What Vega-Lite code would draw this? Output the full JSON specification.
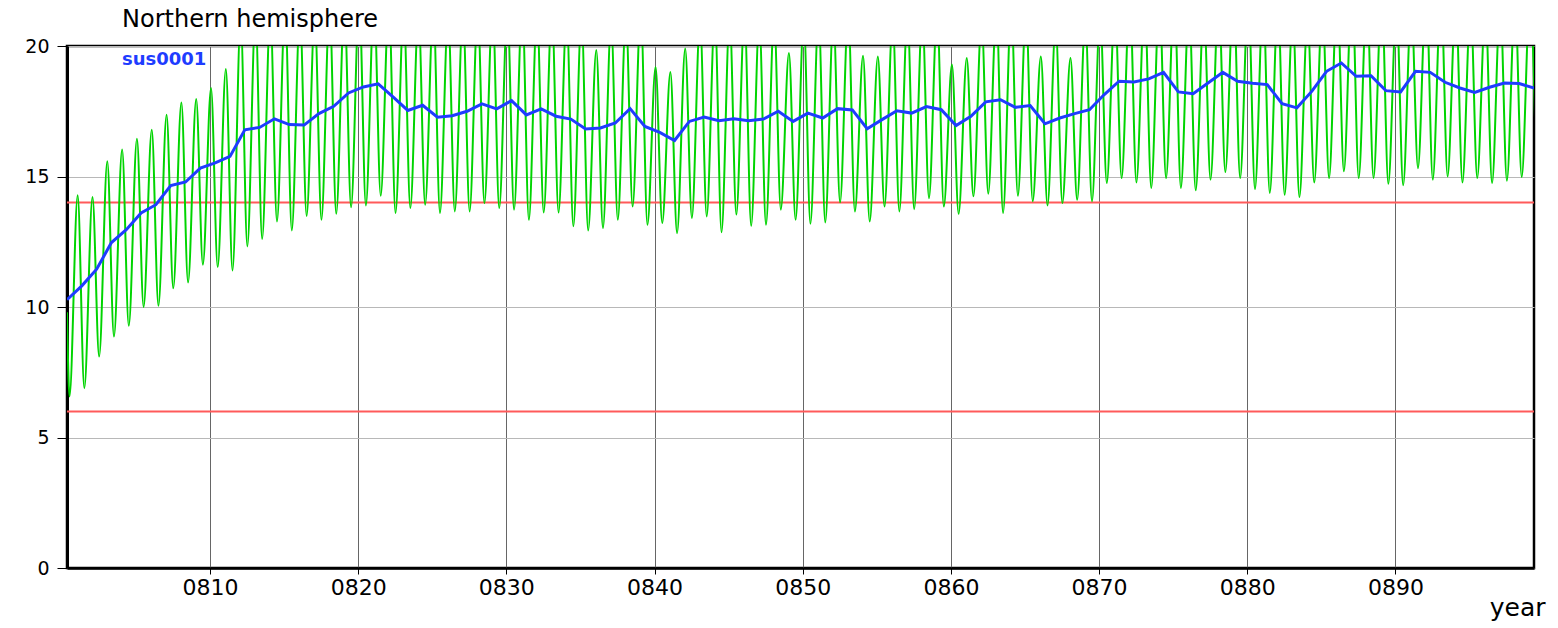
{
  "$schema": "https://vega.github.io/schema/vega-lite/v6.json",
  "autosize": {"type": "none"},
  "padding": {"left": 67, "top": 46, "right": 24, "bottom": 60},
  "width": 1467,
  "height": 522,
  "background": "white",
  "title": {"text": "Northern hemisphere", "anchor": "start", "frame": "group", "dx": 55, "offset": 17, "dy": 31, "baseline": "alphabetic", "fontSize": 24, "fontWeight": "normal", "font": "DejaVu Sans", "color": "#000"},
  "config": {
    "view": {"stroke": "#000", "strokeWidth": 2.5},
    "axis": {"labelFont": "DejaVu Sans", "titleFont": "DejaVu Sans", "labelColor": "#000", "titleColor": "#000", "domainColor": "#000", "tickColor": "#000"}
  },
  "datasets": {
    "green": [
      {"t":800.35,"v":9.8},
      {"t":800.52,"v":6.57},{"t":801.07,"v":14.28},
      {"t":801.52,"v":6.89},{"t":802.07,"v":14.21},
      {"t":802.52,"v":8.1},{"t":803.07,"v":15.58},
      {"t":803.52,"v":8.87},{"t":804.07,"v":16.03},
      {"t":804.52,"v":9.28},{"t":805.07,"v":16.45},
      {"t":805.52,"v":10.0},{"t":806.07,"v":16.79},
      {"t":806.52,"v":10.05},{"t":807.07,"v":17.37},
      {"t":807.52,"v":10.72},{"t":808.07,"v":17.84},
      {"t":808.52,"v":10.94},{"t":809.07,"v":17.97},
      {"t":809.52,"v":11.62},{"t":810.07,"v":18.39},
      {"t":810.52,"v":11.53},{"t":811.07,"v":19.12},
      {"t":811.52,"v":11.4},{"t":812.07,"v":21.0},
      {"t":812.52,"v":12.32},{"t":813.07,"v":21.2},
      {"t":813.52,"v":12.61},{"t":814.07,"v":21.3},
      {"t":814.52,"v":13.28},{"t":815.07,"v":21.5},
      {"t":815.52,"v":12.93},{"t":816.07,"v":21.3},
      {"t":816.52,"v":13.49},{"t":817.07,"v":21.2},
      {"t":817.52,"v":13.34},{"t":818.07,"v":21.5},
      {"t":818.52,"v":13.57},{"t":819.07,"v":21.6},
      {"t":819.52,"v":13.82},{"t":820.07,"v":21.8},
      {"t":820.52,"v":13.89},{"t":821.07,"v":21.8},
      {"t":821.52,"v":14.26},{"t":822.07,"v":21.7},
      {"t":822.52,"v":13.6},{"t":823.07,"v":21.4},
      {"t":823.52,"v":13.79},{"t":824.07,"v":21.3},
      {"t":824.52,"v":13.92},{"t":825.07,"v":21.5},
      {"t":825.52,"v":13.6},{"t":826.07,"v":21.2},
      {"t":826.52,"v":13.66},{"t":827.07,"v":21.3},
      {"t":827.52,"v":13.66},{"t":828.07,"v":21.4},
      {"t":828.52,"v":13.98},{"t":829.07,"v":21.5},
      {"t":829.52,"v":13.79},{"t":830.07,"v":21.4},
      {"t":830.52,"v":13.73},{"t":831.07,"v":21.6},
      {"t":831.52,"v":13.34},{"t":832.07,"v":21.3},
      {"t":832.52,"v":13.62},{"t":833.07,"v":21.4},
      {"t":833.52,"v":13.62},{"t":834.07,"v":21.2},
      {"t":834.52,"v":13.09},{"t":835.07,"v":21.1},
      {"t":835.52,"v":12.93},{"t":836.07,"v":19.85},
      {"t":836.52,"v":13.02},{"t":837.07,"v":20.9},
      {"t":837.52,"v":13.34},{"t":838.07,"v":21.1},
      {"t":838.52,"v":13.85},{"t":839.07,"v":21.4},
      {"t":839.52,"v":13.15},{"t":840.07,"v":19.2},
      {"t":840.52,"v":13.22},{"t":841.07,"v":19.0},
      {"t":841.52,"v":12.83},{"t":842.07,"v":19.9},
      {"t":842.52,"v":13.41},{"t":843.07,"v":21.0},
      {"t":843.52,"v":13.47},{"t":844.07,"v":21.2},
      {"t":844.52,"v":12.86},{"t":845.07,"v":21.1},
      {"t":845.52,"v":13.54},{"t":846.07,"v":21.2},
      {"t":846.52,"v":13.11},{"t":847.07,"v":21.0},
      {"t":847.52,"v":13.15},{"t":848.07,"v":21.1},
      {"t":848.52,"v":13.73},{"t":849.07,"v":19.73},
      {"t":849.52,"v":13.34},{"t":850.07,"v":21.0},
      {"t":850.52,"v":13.19},{"t":851.07,"v":21.2},
      {"t":851.52,"v":13.24},{"t":852.07,"v":21.1},
      {"t":852.52,"v":14.01},{"t":853.07,"v":21.3},
      {"t":853.52,"v":13.66},{"t":854.07,"v":19.63},
      {"t":854.52,"v":13.28},{"t":855.07,"v":19.6},
      {"t":855.52,"v":13.85},{"t":856.07,"v":21.0},
      {"t":856.52,"v":13.66},{"t":857.07,"v":21.2},
      {"t":857.52,"v":13.75},{"t":858.07,"v":21.2},
      {"t":858.52,"v":14.17},{"t":859.07,"v":21.3},
      {"t":859.52,"v":13.85},{"t":860.07,"v":19.29},
      {"t":860.52,"v":13.57},{"t":861.07,"v":19.54},
      {"t":861.52,"v":14.24},{"t":862.07,"v":21.0},
      {"t":862.52,"v":14.34},{"t":863.07,"v":21.4},
      {"t":863.52,"v":13.6},{"t":864.07,"v":21.5},
      {"t":864.52,"v":14.26},{"t":865.07,"v":21.3},
      {"t":865.52,"v":14.05},{"t":866.07,"v":19.6},
      {"t":866.52,"v":13.89},{"t":867.07,"v":20.8},
      {"t":867.52,"v":13.98},{"t":868.07,"v":19.54},
      {"t":868.52,"v":14.11},{"t":869.07,"v":21.0},
      {"t":869.52,"v":14.05},{"t":870.07,"v":21.2},
      {"t":870.52,"v":14.75},{"t":871.07,"v":21.6},
      {"t":871.52,"v":14.94},{"t":872.07,"v":21.9},
      {"t":872.52,"v":14.77},{"t":873.07,"v":21.8},
      {"t":873.52,"v":14.56},{"t":874.07,"v":21.9},
      {"t":874.52,"v":14.94},{"t":875.07,"v":22.1},
      {"t":875.52,"v":14.56},{"t":876.07,"v":21.6},
      {"t":876.52,"v":14.47},{"t":877.07,"v":21.5},
      {"t":877.52,"v":14.88},{"t":878.07,"v":21.9},
      {"t":878.52,"v":15.17},{"t":879.07,"v":22.2},
      {"t":879.52,"v":14.94},{"t":880.07,"v":21.9},
      {"t":880.52,"v":14.52},{"t":881.07,"v":21.8},
      {"t":881.52,"v":14.37},{"t":882.07,"v":21.7},
      {"t":882.52,"v":14.3},{"t":883.07,"v":21.2},
      {"t":883.52,"v":14.21},{"t":884.07,"v":21.1},
      {"t":884.52,"v":14.77},{"t":885.07,"v":21.6},
      {"t":885.52,"v":14.94},{"t":886.07,"v":22.1},
      {"t":886.52,"v":15.2},{"t":887.07,"v":22.4},
      {"t":887.52,"v":14.94},{"t":888.07,"v":22.0},
      {"t":888.52,"v":14.94},{"t":889.07,"v":22.0},
      {"t":889.52,"v":14.72},{"t":890.07,"v":21.6},
      {"t":890.52,"v":14.66},{"t":891.07,"v":21.6},
      {"t":891.52,"v":15.32},{"t":892.07,"v":22.2},
      {"t":892.52,"v":14.88},{"t":893.07,"v":22.1},
      {"t":893.52,"v":15.0},{"t":894.07,"v":21.8},
      {"t":894.52,"v":14.77},{"t":895.07,"v":21.6},
      {"t":895.52,"v":14.94},{"t":896.07,"v":21.5},
      {"t":896.52,"v":14.75},{"t":897.07,"v":21.7},
      {"t":897.52,"v":14.84},{"t":898.07,"v":21.8},
      {"t":898.52,"v":14.98},{"t":899.07,"v":21.8},
      {"t":899.52,"v":15.0}
    ],
    "blue": [
      {"t":800.35,"v":10.28},{"t":801.35,"v":10.81},{"t":802.35,"v":11.45},{"t":803.35,"v":12.47},{"t":804.35,"v":12.96},
      {"t":805.35,"v":13.6},{"t":806.35,"v":13.92},{"t":807.35,"v":14.65},{"t":808.35,"v":14.79},{"t":809.35,"v":15.32},
      {"t":810.35,"v":15.52},{"t":811.35,"v":15.77},{"t":812.35,"v":16.79},{"t":813.35,"v":16.88},{"t":814.35,"v":17.21},
      {"t":815.35,"v":16.99},{"t":816.35,"v":16.97},{"t":817.35,"v":17.41},{"t":818.35,"v":17.69},{"t":819.35,"v":18.2},
      {"t":820.35,"v":18.43},{"t":821.35,"v":18.55},{"t":822.35,"v":18.05},{"t":823.35,"v":17.53},{"t":824.35,"v":17.73},
      {"t":825.35,"v":17.27},{"t":826.35,"v":17.33},{"t":827.35,"v":17.5},{"t":828.35,"v":17.78},{"t":829.35,"v":17.59},
      {"t":830.35,"v":17.91},{"t":831.35,"v":17.36},{"t":832.35,"v":17.59},{"t":833.35,"v":17.31},{"t":834.35,"v":17.2},
      {"t":835.35,"v":16.82},{"t":836.35,"v":16.86},{"t":837.35,"v":17.05},{"t":838.35,"v":17.6},{"t":839.35,"v":16.92},
      {"t":840.35,"v":16.69},{"t":841.35,"v":16.38},{"t":842.35,"v":17.11},{"t":843.35,"v":17.28},{"t":844.35,"v":17.14},
      {"t":845.35,"v":17.21},{"t":846.35,"v":17.14},{"t":847.35,"v":17.2},{"t":848.35,"v":17.5},{"t":849.35,"v":17.11},
      {"t":850.35,"v":17.43},{"t":851.35,"v":17.24},{"t":852.35,"v":17.6},{"t":853.35,"v":17.55},{"t":854.35,"v":16.83},
      {"t":855.35,"v":17.18},{"t":856.35,"v":17.52},{"t":857.35,"v":17.43},{"t":858.35,"v":17.68},{"t":859.35,"v":17.56},
      {"t":860.35,"v":16.95},{"t":861.35,"v":17.31},{"t":862.35,"v":17.86},{"t":863.35,"v":17.94},{"t":864.35,"v":17.65},
      {"t":865.35,"v":17.72},{"t":866.35,"v":17.02},{"t":867.35,"v":17.24},{"t":868.35,"v":17.41},{"t":869.35,"v":17.56},
      {"t":870.35,"v":18.14},{"t":871.35,"v":18.65},{"t":872.35,"v":18.62},{"t":873.35,"v":18.74},{"t":874.35,"v":18.99},
      {"t":875.35,"v":18.24},{"t":876.35,"v":18.17},{"t":877.35,"v":18.58},{"t":878.35,"v":18.99},{"t":879.35,"v":18.65},
      {"t":880.35,"v":18.57},{"t":881.35,"v":18.52},{"t":882.35,"v":17.79},{"t":883.35,"v":17.63},{"t":884.35,"v":18.26},
      {"t":885.35,"v":19.03},{"t":886.35,"v":19.35},{"t":887.35,"v":18.84},{"t":888.35,"v":18.86},{"t":889.35,"v":18.29},
      {"t":890.35,"v":18.24},{"t":891.35,"v":19.03},{"t":892.35,"v":18.99},{"t":893.35,"v":18.61},{"t":894.35,"v":18.39},
      {"t":895.35,"v":18.22},{"t":896.35,"v":18.42},{"t":897.35,"v":18.58},{"t":898.35,"v":18.56},{"t":899.35,"v":18.39}
    ],
    "refs": [{"v": 14}, {"v": 6}],
    "lab": [{"t": 804.06, "v": 19.47, "label": "sus0001"}]
  },
  "layer": [
    {
      "data": {"name": "refs"},
      "mark": {"type": "rule", "color": "#ff5a5a", "strokeWidth": 2},
      "encoding": {
        "y": {"field": "v", "type": "quantitative", "scale": {"domain": [0, 20], "nice": false, "zero": false}}
      }
    },
    {
      "data": {"name": "green"},
      "mark": {"type": "line", "color": "#00d400", "strokeWidth": 2, "interpolate": "monotone", "clip": true},
      "encoding": {
        "x": {"field": "t", "type": "quantitative", "scale": {"domain": [800.35, 899.35], "nice": false, "zero": false},
          "axis": {"values": [810, 820, 830, 840, 850, 860, 870, 880, 890], "labelExpr": "'0' + datum.value", "labelFontSize": 22, "labelPadding": 3, "tickSize": 6, "tickWidth": 1, "domainWidth": 2.5, "grid": true, "gridColor": "#666", "gridWidth": 1, "title": "year", "titleFontSize": 25, "titleFontWeight": "normal", "titleAnchor": "end", "titleAlign": "right", "titleBaseline": "alphabetic", "titleX": 1478, "titleY": 47}},
        "y": {"field": "v", "type": "quantitative", "scale": {"domain": [0, 20], "nice": false, "zero": false},
          "axis": {"values": [0, 5, 10, 15, 20], "labelFontSize": 19, "labelPadding": 8, "tickSize": 10, "tickWidth": 1, "domainWidth": 3, "grid": true, "gridColor": "#b8b8b8", "gridWidth": 1, "title": null}}
      }
    },
    {
      "data": {"name": "blue"},
      "mark": {"type": "line", "color": "#1e3cff", "strokeWidth": 3, "clip": true},
      "encoding": {
        "x": {"field": "t", "type": "quantitative"},
        "y": {"field": "v", "type": "quantitative"}
      }
    },
    {
      "data": {"name": "lab"},
      "mark": {"type": "text", "color": "#1e3cff", "fontSize": 18, "fontWeight": "bold", "font": "DejaVu Sans", "align": "left", "baseline": "middle"},
      "encoding": {
        "x": {"field": "t", "type": "quantitative"},
        "y": {"field": "v", "type": "quantitative"},
        "text": {"field": "label"}
      }
    }
  ]
}
